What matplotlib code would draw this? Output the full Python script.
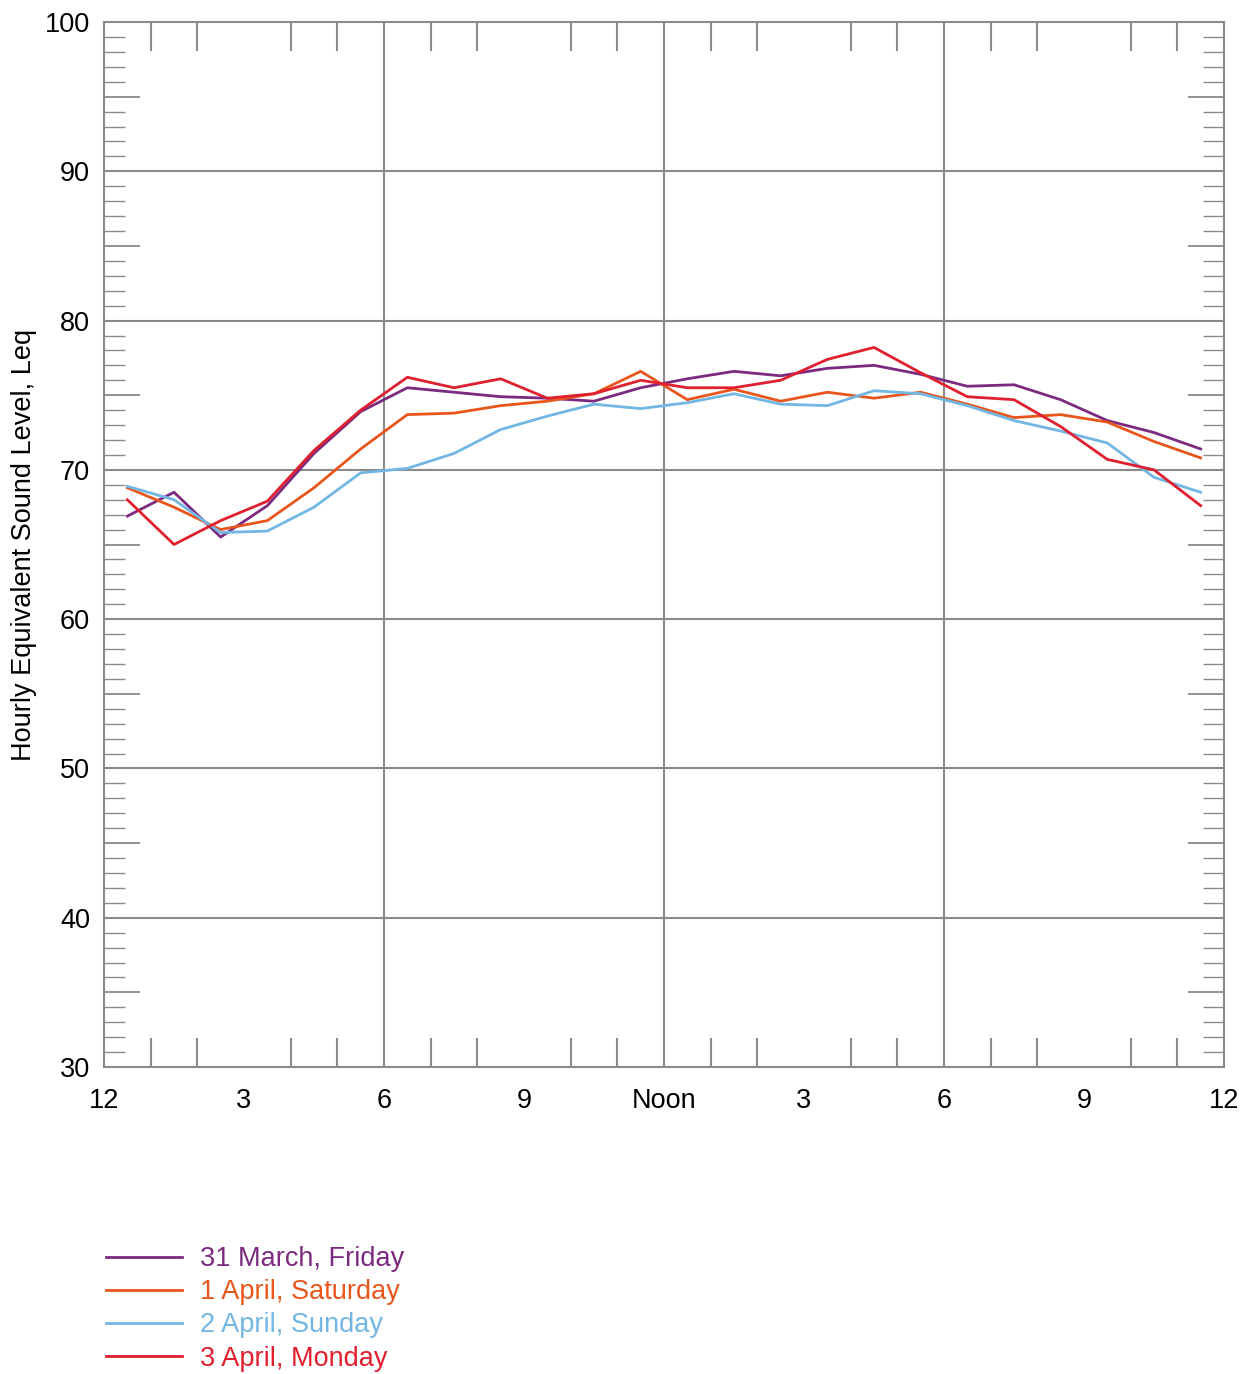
import numpy as np
import matplotlib
matplotlib.use('Agg')
import matplotlib.pyplot as plt
from matplotlib.ticker import FixedLocator, FuncFormatter

plt.rcParams['font.family'] = ['Liberation Sans', 'DejaVu Sans']

# hourly Leq, plotted at the middle of each hour
hours = np.arange(24) + 0.5
friday = [66.9, 68.5, 65.5, 67.6, 71.1, 73.9, 75.5, 75.2, 74.9, 74.8, 74.6, 75.5,
          76.1, 76.6, 76.3, 76.8, 77.0, 76.4, 75.6, 75.7, 74.7, 73.3, 72.5, 71.4]
saturday = [68.8, 67.5, 66.0, 66.6, 68.8, 71.4, 73.7, 73.8, 74.3, 74.6, 75.1, 76.6,
            74.7, 75.4, 74.6, 75.2, 74.8, 75.2, 74.4, 73.5, 73.7, 73.2, 71.9, 70.8]
sunday = [68.9, 68.0, 65.8, 65.9, 67.5, 69.8, 70.1, 71.1, 72.7, 73.6, 74.4, 74.1,
          74.5, 75.1, 74.4, 74.3, 75.3, 75.1, 74.3, 73.3, 72.6, 71.8, 69.5, 68.5]
monday = [68.0, 65.0, 66.6, 67.9, 71.3, 74.0, 76.2, 75.5, 76.1, 74.8, 75.1, 76.0,
          75.5, 75.5, 76.0, 77.4, 78.2, 76.5, 74.9, 74.7, 72.9, 70.7, 70.0, 67.6]

series = [
    ('31 March, Friday', friday, '#7b2a80'),
    ('1 April, Saturday', saturday, '#e8561c'),
    ('2 April, Sunday', sunday, '#72b6e4'),
    ('3 April, Monday', monday, '#e01f2f'),
]

x_ticks = [0, 3, 6, 9, 12, 15, 18, 21, 24]
x_labels = ['12', '3', '6', '9', 'Noon', '3', '6', '9', '12']

grey = '#8a8a8a'
fs = 19.5

fig = plt.figure(figsize=(12.51, 13.74), dpi=100)
ax = fig.add_axes([104 / 1251, 1 - 1067 / 1374, 1120 / 1251, 1045 / 1374])

for label, vals, col in series:
    ax.plot(hours, vals, color=col, lw=2.0, label=label)

ax.set_xlim(0, 24)
ax.set_ylim(30, 100)

# grid lines
for gx in [6, 12, 18]:
    ax.axvline(gx, color=grey, lw=1.5, zorder=0)
for gy in range(40, 100, 10):
    ax.axhline(gy, color=grey, lw=1.5, zorder=0)

for s in ax.spines.values():
    s.set_color(grey)
    s.set_linewidth(1.5)

# x ticks: labels at 3 h, hourly marks inward top and bottom
ax.set_xticks(x_ticks)
ax.set_xticklabels(x_labels)
ax.xaxis.set_minor_locator(FixedLocator([h for h in range(1, 24)]))
ax.tick_params(axis='x', which='major', length=0, pad=15, labelsize=fs)
ax.tick_params(axis='x', which='minor', direction='in', length=21, width=1.5,
               color=grey, top=True, bottom=True)

# y ticks: long marks at 5 dB, short at 1 dB, both sides
ax.set_yticks(np.arange(30, 101, 5))
ax.yaxis.set_major_formatter(FuncFormatter(lambda v, p: f'{int(v)}' if v % 10 == 0 else ''))
ax.yaxis.set_minor_locator(FixedLocator(np.arange(30, 101, 1)))
ax.tick_params(axis='y', which='major', direction='in', length=26, width=1.3,
               color=grey, left=True, right=True, pad=10, labelsize=fs)
ax.tick_params(axis='y', which='minor', direction='in', length=15, width=1.0,
               color=grey, left=True, right=True)

ax.set_ylabel('Hourly Equivalent Sound Level, Leq', fontsize=fs, labelpad=6)

leg = fig.legend(loc='upper left', bbox_to_anchor=(82 / 1251, 1 - 1222 / 1374),
                 frameon=False, fontsize=fs, handlelength=2.8, handletextpad=0.65,
                 labelspacing=0.26, labelcolor='linecolor')

fig.savefig('out.png', dpi=100)
